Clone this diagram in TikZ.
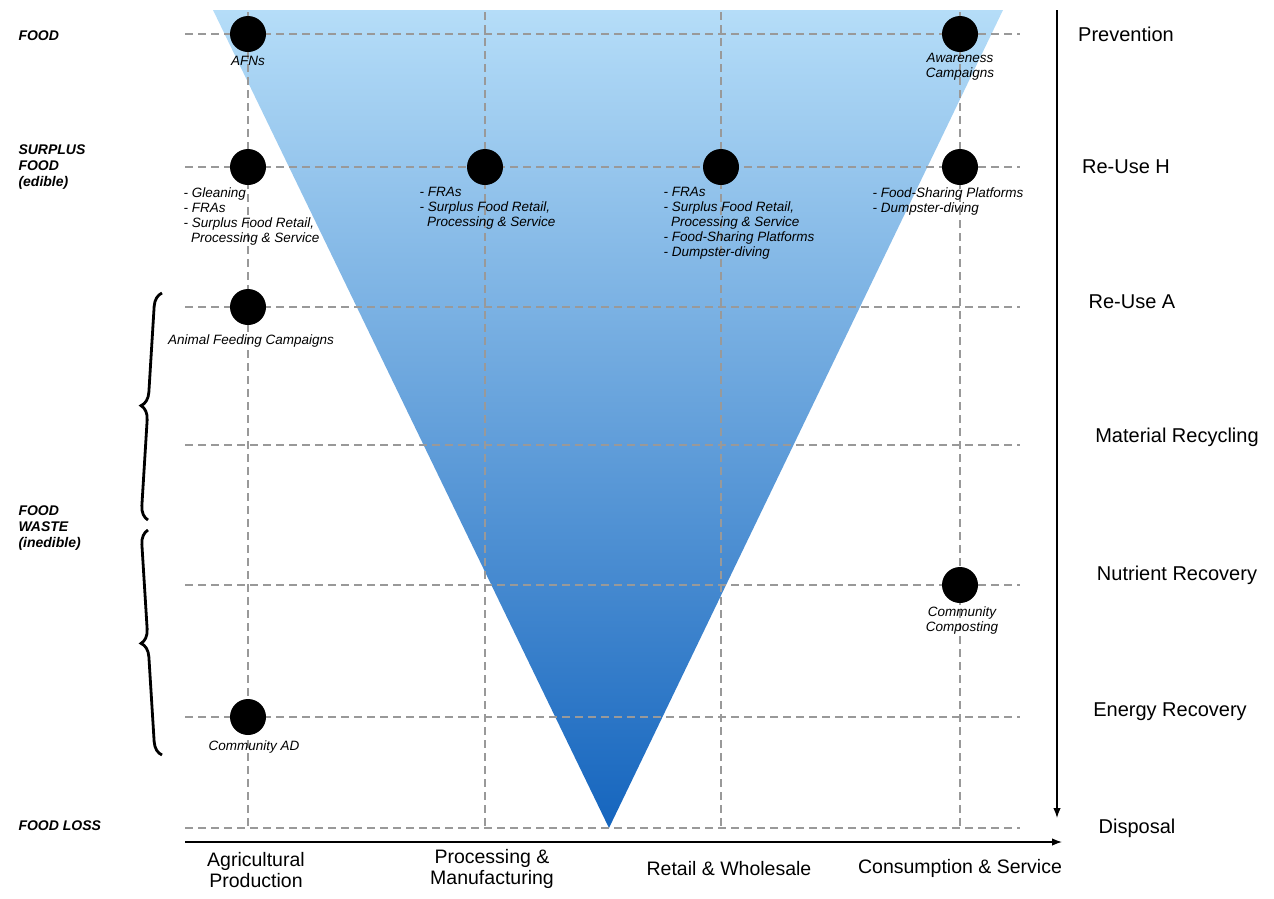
\documentclass[tikz,border=0pt]{standalone}
\usepackage{fontspec}
\setmainfont{Liberation Sans}
\usetikzlibrary{decorations.pathreplacing,arrows.meta}
\definecolor{topb}{HTML}{B5DDF8}
\definecolor{botb}{HTML}{1565BE}
\begin{document}
\begin{tikzpicture}[x=1pt,y=-1pt,
  grid/.style={gray!80,dashed,dash pattern=on 8pt off 5pt,line width=1.1pt},
  dot/.style={circle,fill=black,minimum size=36pt,inner sep=0pt},
  sm/.style={font=\fontsize{13.5}{15}\selectfont\itshape,align=left},
  lev/.style={font=\fontsize{20}{22}\selectfont},
  lft/.style={font=\fontsize{14}{16}\selectfont\bfseries\itshape,align=left,anchor=west},
  stage/.style={font=\fontsize{19.5}{21}\selectfont,align=center}]
\useasboundingbox (0,0) rectangle (1274,898);
\shade[top color=topb,bottom color=botb] (213,10) -- (1003,10) -- (609,828) -- cycle;
\foreach \x in {248,485,721,960} \draw[grid] (\x,12) -- (\x,830);
\foreach \y in {34,167,307,445,585,717,828} \draw[grid] (185,\y) -- (1020,\y);
% axes
\coordinate (ya) at (1057,10); \coordinate (yb) at (1057,818);
\draw[-{Latex[length=10pt]},line width=1.3pt] (ya) -- (yb);
\coordinate (xa) at (185,842); \coordinate (xb) at (1062,842);
\draw[-{Latex[length=10pt]},line width=1.3pt] (xa) -- (xb);
% dots
\node[dot] (d1) at (248,34) {}; \node[dot] (d2) at (960,34) {};
\node[dot] (d3) at (248,167) {}; \node[dot] (d4) at (485,167) {};
\node[dot] (d5) at (721,167) {}; \node[dot] (d6) at (960,167) {};
\node[dot] (d7) at (248,307) {}; \node[dot] (d8) at (960,585) {};
\node[dot] (d9) at (248,717) {};
% labels
\node[sm] (t1) at (248,61) {AFNs};
\node[sm,align=center] (t2) at (960,67) {Awareness\\Campaigns};
\node[sm,anchor=north west] (t3) at (180,184) {- Gleaning\\- FRAs\\- Surplus Food Retail,\\\ \ Processing \& Service};
\node[sm,anchor=north west] (t4) at (416,184) {- FRAs\\- Surplus Food Retail,\\\ \ Processing \& Service};
\node[sm,anchor=north west] (t5) at (660,184) {- FRAs\\- Surplus Food Retail,\\\ \ Processing \& Service\\- Food-Sharing Platforms\\- Dumpster-diving};
\node[sm,anchor=north west] (t6) at (869,184) {- Food-Sharing Platforms\\- Dumpster-diving};
\node[sm] (t7) at (251,341) {Animal Feeding Campaigns};
\node[sm,align=center] (t8) at (962,620) {Community\\Composting};
\node[sm] (t9) at (254,747) {Community AD};
% levels
\node[lev] (l1) at (1126,34) {Prevention};
\node[lev] (l2) at (1126,167) {Re-Use H};
\node[lev] (l3) at (1132,302) {Re-Use A};
\node[lev] (l4) at (1177,437) {Material Recycling};
\node[lev] (l5) at (1177,575) {Nutrient Recovery};
\node[lev] (l6) at (1170,712) {Energy Recovery};
\node[lev] (l7) at (1137,828) {Disposal};
% left
\node[lft] (f1) at (15,36) {FOOD};
\node[lft] (f2) at (15,167) {SURPLUS\\FOOD\\(edible)};
\node[lft] (f3) at (15,528) {FOOD\\WASTE\\(inedible)};
\node[lft] (f4) at (15,826) {FOOD LOSS};
\draw[decorate,decoration={brace,amplitude=14pt},line width=2.8pt] (148,520) -- (162,293);
\draw[decorate,decoration={brace,amplitude=14pt},line width=2.8pt] (162,755) -- (148,530);
% stages
\node[stage] (s1) at (256,870) {Agricultural\\Production};
\node[stage] (s2) at (492,869) {Processing \&\\Manufacturing};
\node[stage] (s3) at (729,869) {Retail \& Wholesale};
\node[stage] (s4) at (960,868) {Consumption \& Service};
\end{tikzpicture}
\end{document}
